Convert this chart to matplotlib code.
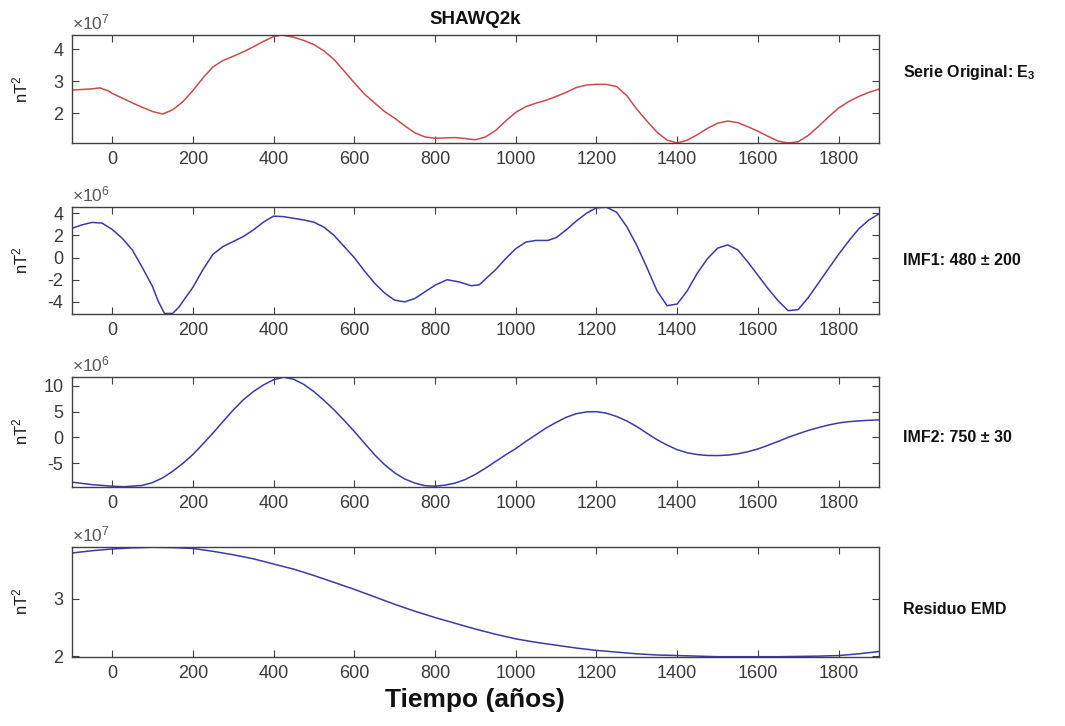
import matplotlib
matplotlib.use("Agg")
import matplotlib.pyplot as plt

plt.rcParams["font.family"] = ["Liberation Sans", "DejaVu Sans"]
plt.rcParams["mathtext.fontset"] = "custom"
plt.rcParams["mathtext.rm"] = "Liberation Sans"
plt.rcParams["mathtext.it"] = "Liberation Sans:italic"
plt.rcParams["mathtext.bf"] = "Liberation Sans:bold"
plt.rcParams["axes.unicode_minus"] = False

# ---- data -------------------------------------------------------------
# Original series E3 (units of 1e7 nT^2)
years_e3 = [-100, -75, -50, -30, -10, 0, 25, 50, 75, 100, 125, 150, 175, 200,
            225, 250, 275, 300, 325, 350, 375, 400, 420, 450, 475, 500, 525,
            550, 575, 600, 625, 650, 675, 700, 725, 750, 775, 800, 850, 875,
            900, 925, 950, 975, 1000, 1025, 1050, 1075, 1100, 1125, 1150, 1175,
            1200, 1225, 1250, 1275, 1300, 1325, 1350, 1375, 1400, 1425, 1450,
            1475, 1500, 1525, 1550, 1575, 1600, 1625, 1650, 1675, 1700, 1725,
            1750, 1775, 1800, 1825, 1850, 1875, 1900]
e3 = [2.72, 2.74, 2.76, 2.79, 2.70, 2.62, 2.47, 2.32, 2.18, 2.05, 1.97, 2.10,
      2.35, 2.70, 3.10, 3.45, 3.65, 3.78, 3.92, 4.08, 4.25, 4.40, 4.45, 4.38,
      4.28, 4.15, 3.95, 3.68, 3.32, 2.95, 2.60, 2.32, 2.05, 1.84, 1.60, 1.38,
      1.25, 1.21, 1.23, 1.20, 1.16, 1.25, 1.45, 1.75, 2.02, 2.20, 2.31, 2.40,
      2.52, 2.65, 2.80, 2.88, 2.90, 2.90, 2.83, 2.55, 2.12, 1.75, 1.40, 1.15,
      1.06, 1.15, 1.32, 1.52, 1.68, 1.75, 1.70, 1.57, 1.43, 1.27, 1.12, 1.06,
      1.10, 1.30, 1.58, 1.88, 2.16, 2.36, 2.52, 2.65, 2.75]

# IMF1 (units of 1e6 nT^2)
years_imf1 = [-100, -75, -50, -25, 0, 25, 50, 75, 100, 115, 130, 150, 165, 200,
              225, 250, 275, 300, 325, 350, 375, 400, 425, 450, 475, 500, 525,
              550, 575, 600, 625, 650, 675, 700, 725, 750, 775, 800, 830, 860,
              890, 910, 950, 975, 1000, 1025, 1050, 1080, 1100, 1125, 1150,
              1175, 1200, 1225, 1250, 1275, 1300, 1325, 1350, 1375, 1400, 1425,
              1450, 1475, 1500, 1525, 1550, 1575, 1600, 1625, 1650, 1675, 1700,
              1725, 1750, 1775, 1800, 1825, 1850, 1875, 1900]
imf1 = [2.64, 2.95, 3.18, 3.12, 2.55, 1.75, 0.70, -0.90, -2.60, -4.00, -5.05,
        -5.05, -4.50, -2.70, -1.10, 0.30, 1.00, 1.45, 1.90, 2.50, 3.20, 3.75,
        3.70, 3.55, 3.40, 3.20, 2.75, 2.00, 1.00, 0.00, -1.20, -2.30, -3.20,
        -3.85, -4.00, -3.70, -3.10, -2.50, -2.00, -2.20, -2.55, -2.45, -1.10,
        -0.10, 0.80, 1.40, 1.55, 1.55, 1.80, 2.50, 3.30, 4.00, 4.50, 4.55,
        4.10, 2.80, 1.10, -0.90, -3.00, -4.35, -4.20, -3.00, -1.40, -0.10,
        0.85, 1.15, 0.70, -0.40, -1.60, -2.80, -3.90, -4.80, -4.70, -3.60,
        -2.30, -1.00, 0.30, 1.50, 2.60, 3.40, 3.95]

# IMF2 (units of 1e6 nT^2)
years_imf2 = [-100, -50, 0, 30, 75, 100, 125, 150, 175, 200, 225, 250, 275, 300,
              325, 350, 375, 400, 425, 450, 475, 500, 525, 550, 575, 600, 625,
              650, 675, 700, 725, 750, 775, 800, 825, 850, 875, 900, 925, 950,
              975, 1000, 1025, 1050, 1075, 1100, 1125, 1150, 1175, 1200, 1225,
              1250, 1275, 1300, 1325, 1350, 1375, 1400, 1425, 1450, 1475, 1500,
              1525, 1550, 1575, 1600, 1625, 1650, 1675, 1700, 1725, 1750, 1775,
              1800, 1825, 1850, 1875, 1900]
imf2 = [-8.7, -9.2, -9.5, -9.6, -9.35, -8.8, -7.9, -6.6, -5.1, -3.35, -1.3,
        0.84, 3.1, 5.3, 7.3, 8.9, 10.2, 11.2, 11.7, 11.3, 10.3, 8.9, 7.2, 5.35,
        3.3, 1.16, -1.1, -3.35, -5.3, -6.9, -8.1, -8.9, -9.4, -9.5, -9.3, -8.9,
        -8.2, -7.2, -6.0, -4.7, -3.4, -2.2, -0.8, 0.5, 1.8, 2.9, 3.9, 4.6,
        4.95, 5.0, 4.7, 4.06, 3.2, 2.1, 0.8, -0.45, -1.5, -2.4, -3.0, -3.35,
        -3.52, -3.55, -3.45, -3.2, -2.8, -2.26, -1.55, -0.8, 0.0, 0.7, 1.35,
        1.9, 2.4, 2.8, 3.05, 3.2, 3.32, 3.4]

# EMD residue (units of 1e7 nT^2)
years_res = [-100, -50, 0, 50, 100, 150, 200, 250, 300, 350, 400, 450, 500, 550,
             600, 650, 700, 750, 800, 850, 900, 950, 1000, 1050, 1100, 1150,
             1200, 1250, 1300, 1350, 1400, 1450, 1500, 1550, 1600, 1650, 1700,
             1750, 1800, 1850, 1900]
residue = [3.79, 3.83, 3.86, 3.88, 3.89, 3.885, 3.87, 3.82, 3.76, 3.69, 3.60,
           3.51, 3.40, 3.28, 3.16, 3.03, 2.90, 2.78, 2.67, 2.57, 2.47, 2.38,
           2.30, 2.24, 2.19, 2.14, 2.10, 2.07, 2.04, 2.02, 2.01, 2.00, 1.99,
           1.99, 1.99, 1.99, 1.995, 2.00, 2.01, 2.04, 2.08]

x_ticks = [0, 200, 400, 600, 800, 1000, 1200, 1400, 1600, 1800]

panels = [
    dict(x=years_e3, y=e3, color="#c94b4e", exp="7", yticks=[2, 3, 4],
         ylim=(1.06, 4.45), label=r"Serie Original: E$_\mathbf{3}$"),
    dict(x=years_imf1, y=imf1, color="#3a3aa8", exp="6", yticks=[-4, -2, 0, 2, 4],
         ylim=(-5.1, 4.6), label="IMF1: 480 ± 200"),
    dict(x=years_imf2, y=imf2, color="#3a3aa8", exp="6", yticks=[-5, 0, 5, 10],
         ylim=(-9.6, 11.8), label="IMF2: 750 ± 30"),
    dict(x=years_res, y=residue, color="#3a3aa8", exp="7", yticks=[2, 3],
         ylim=(1.99, 3.9), label="Residuo EMD"),
]

# ---- layout -----------------------------------------------------------
W, H = 1065, 726
fig = plt.figure(figsize=(W / 100, H / 100), dpi=100)
left_px, right_px = 71.7, 879
rows_px = [(35, 143), (206.7, 314), (376.7, 486.7), (546.7, 656.7)]
label_y_px = [72, 260, 437, 610]

axis_col = "#404040"
tick_col = "#3a3a3a"

for i, (p, (top, bot)) in enumerate(zip(panels, rows_px)):
    ax = fig.add_axes([left_px / W, 1 - bot / H, (right_px - left_px) / W,
                       (bot - top) / H])
    ax.plot(p["x"], p["y"], color=p["color"], lw=1.1)
    ax.set_xlim(-100, 1900)
    ax.set_ylim(*p["ylim"])
    ax.set_xticks(x_ticks)
    ax.set_yticks(p["yticks"])
    ax.tick_params(direction="in", length=5, width=0.8, top=True, right=True,
                   colors=axis_col, labelcolor=tick_col, labelsize=13, pad=6)
    for s in ax.spines.values():
        s.set_color(axis_col)
        s.set_linewidth(1.0)
    ax.set_ylabel(r"nT$^\mathregular{2}$", fontsize=12, color="#1a1a1a")
    ax.yaxis.set_label_coords((30 - left_px) / (right_px - left_px), 0.5)
    ax.text(0.0, 1.02, r"$\times\mathregular{10^{%s}}$" % p["exp"],
            transform=ax.transAxes, ha="left", va="bottom", fontsize=12.5,
            color="#555555")
    fig.text(903 / W, 1 - label_y_px[i] / H, p["label"], fontsize=11.5,
             fontweight="bold", ha="left", va="center", color="#111111")
    if i == 0:
        ax.set_title("SHAWQ2k", fontsize=13.5, fontweight="bold", pad=8,
                     color="#111111")
    if i == 3:
        ax.set_xlabel("Tiempo (años)", fontsize=19, fontweight="bold",
                      color="#111111", labelpad=4)

fig.savefig("out.png", dpi=100)
